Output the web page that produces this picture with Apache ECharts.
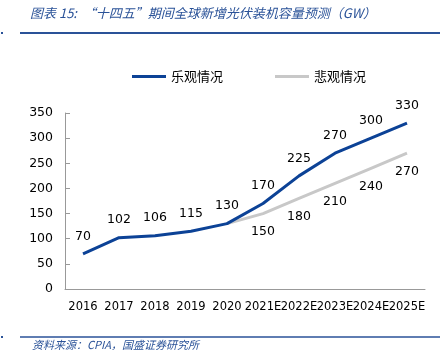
<!DOCTYPE html>
<html>
<head>
<meta charset="utf-8">
<script src="https://cdn.jsdelivr.net/npm/echarts@6/dist/echarts.min.js"></script>
<style>
    html, body { margin: 0; padding: 0; background: #fff; }
    #chart { width: 446px; height: 350px; }
</style>
</head>
<body>
<div id="chart"></div>
<script>
// 年份
const years = ['2016', '2017', '2018', '2019', '2020', '2021E', '2022E', '2023E', '2024E', '2025E'];
// 乐观情况
const optimistic = [70, 102, 106, 115, 130, 170, 225, 270, 300, 330];
// 悲观情况（2020 年起）
const pessimistic = ['-', '-', '-', '-', 130, 150, 180, 210, 240, 270];

const blue = '#0c4296';
const gray = '#c8c8c8';
const titleColor = '#2a5298';

let chart = echarts.init(document.getElementById('chart'));

let option = {
    animation: false,
    textStyle: { fontFamily: 'DejaVu Sans' },
    graphic: [
        {
            type: 'text', left: 30, top: 7,
            style: {
                text: '图表 15:  “十四五”期间全球新增光伏装机容量预测（GW）',
                fill: titleColor, fontSize: 13, fontStyle: 'italic',
                fontFamily: 'Noto Sans CJK SC'
            }
        },
        { type: 'line', shape: { x1: 20, y1: 33, x2: 440, y2: 33 }, style: { stroke: titleColor, lineWidth: 2 } },
        { type: 'rect', shape: { x: 1, y: 32, width: 2, height: 2 }, style: { fill: titleColor } },
        { type: 'line', shape: { x1: 20, y1: 337, x2: 440, y2: 337 }, style: { stroke: titleColor, lineWidth: 1.5 } },
        { type: 'rect', shape: { x: 1, y: 336, width: 2, height: 2 }, style: { fill: titleColor } },
        {
            type: 'text', left: 32, top: 339,
            style: {
                text: '资料来源：CPIA，国盛证券研究所',
                fill: titleColor, fontSize: 11, fontStyle: 'italic',
                fontFamily: 'Noto Sans CJK SC'
            }
        }
    ],
    legend: {
        left: 127, top: 65,
        itemWidth: 34, itemHeight: 3, itemGap: 52,
        textStyle: { fontSize: 13, color: '#000', fontFamily: 'Noto Sans CJK SC' },
        data: [
            { name: '乐观情况', icon: 'rect', itemStyle: { color: blue } },
            { name: '悲观情况', icon: 'rect', itemStyle: { color: gray } }
        ]
    },
    grid: { left: 65, right: 21, top: 113, bottom: 61 },
    xAxis: {
        type: 'category',
        data: years,
        boundaryGap: true,
        axisLine: { lineStyle: { color: '#999' } },
        axisTick: { inside: true, length: 5, lineStyle: { color: '#999' } },
        axisLabel: { color: '#000', fontSize: 11.5, margin: 12, interval: 0 }
    },
    yAxis: {
        type: 'value',
        min: 0, max: 350, interval: 50,
        axisLine: { show: true, lineStyle: { color: '#999' } },
        axisTick: { show: true, inside: true, length: 5, lineStyle: { color: '#999' } },
        splitLine: { show: false },
        axisLabel: { color: '#000', fontSize: 12.5, margin: 12 }
    },
    series: [
        {
            name: '悲观情况',
            type: 'line',
            data: pessimistic.map((v, i) => i === 4 ? { value: v, label: { show: false } } : v),
            symbol: 'circle',
            symbolSize: 0.1,
            lineStyle: { color: gray, width: 3 },
            itemStyle: { color: gray },
            label: { show: true, position: 'bottom', distance: 12, color: '#000', fontSize: 12.5 }
        },
        {
            name: '乐观情况',
            type: 'line',
            data: optimistic,
            symbol: 'circle',
            symbolSize: 0.1,
            lineStyle: { color: blue, width: 3 },
            itemStyle: { color: blue },
            label: { show: true, position: 'top', distance: 11, color: '#000', fontSize: 12.5 }
        }
    ]
};

chart.setOption(option);
</script>
</body>
</html>
